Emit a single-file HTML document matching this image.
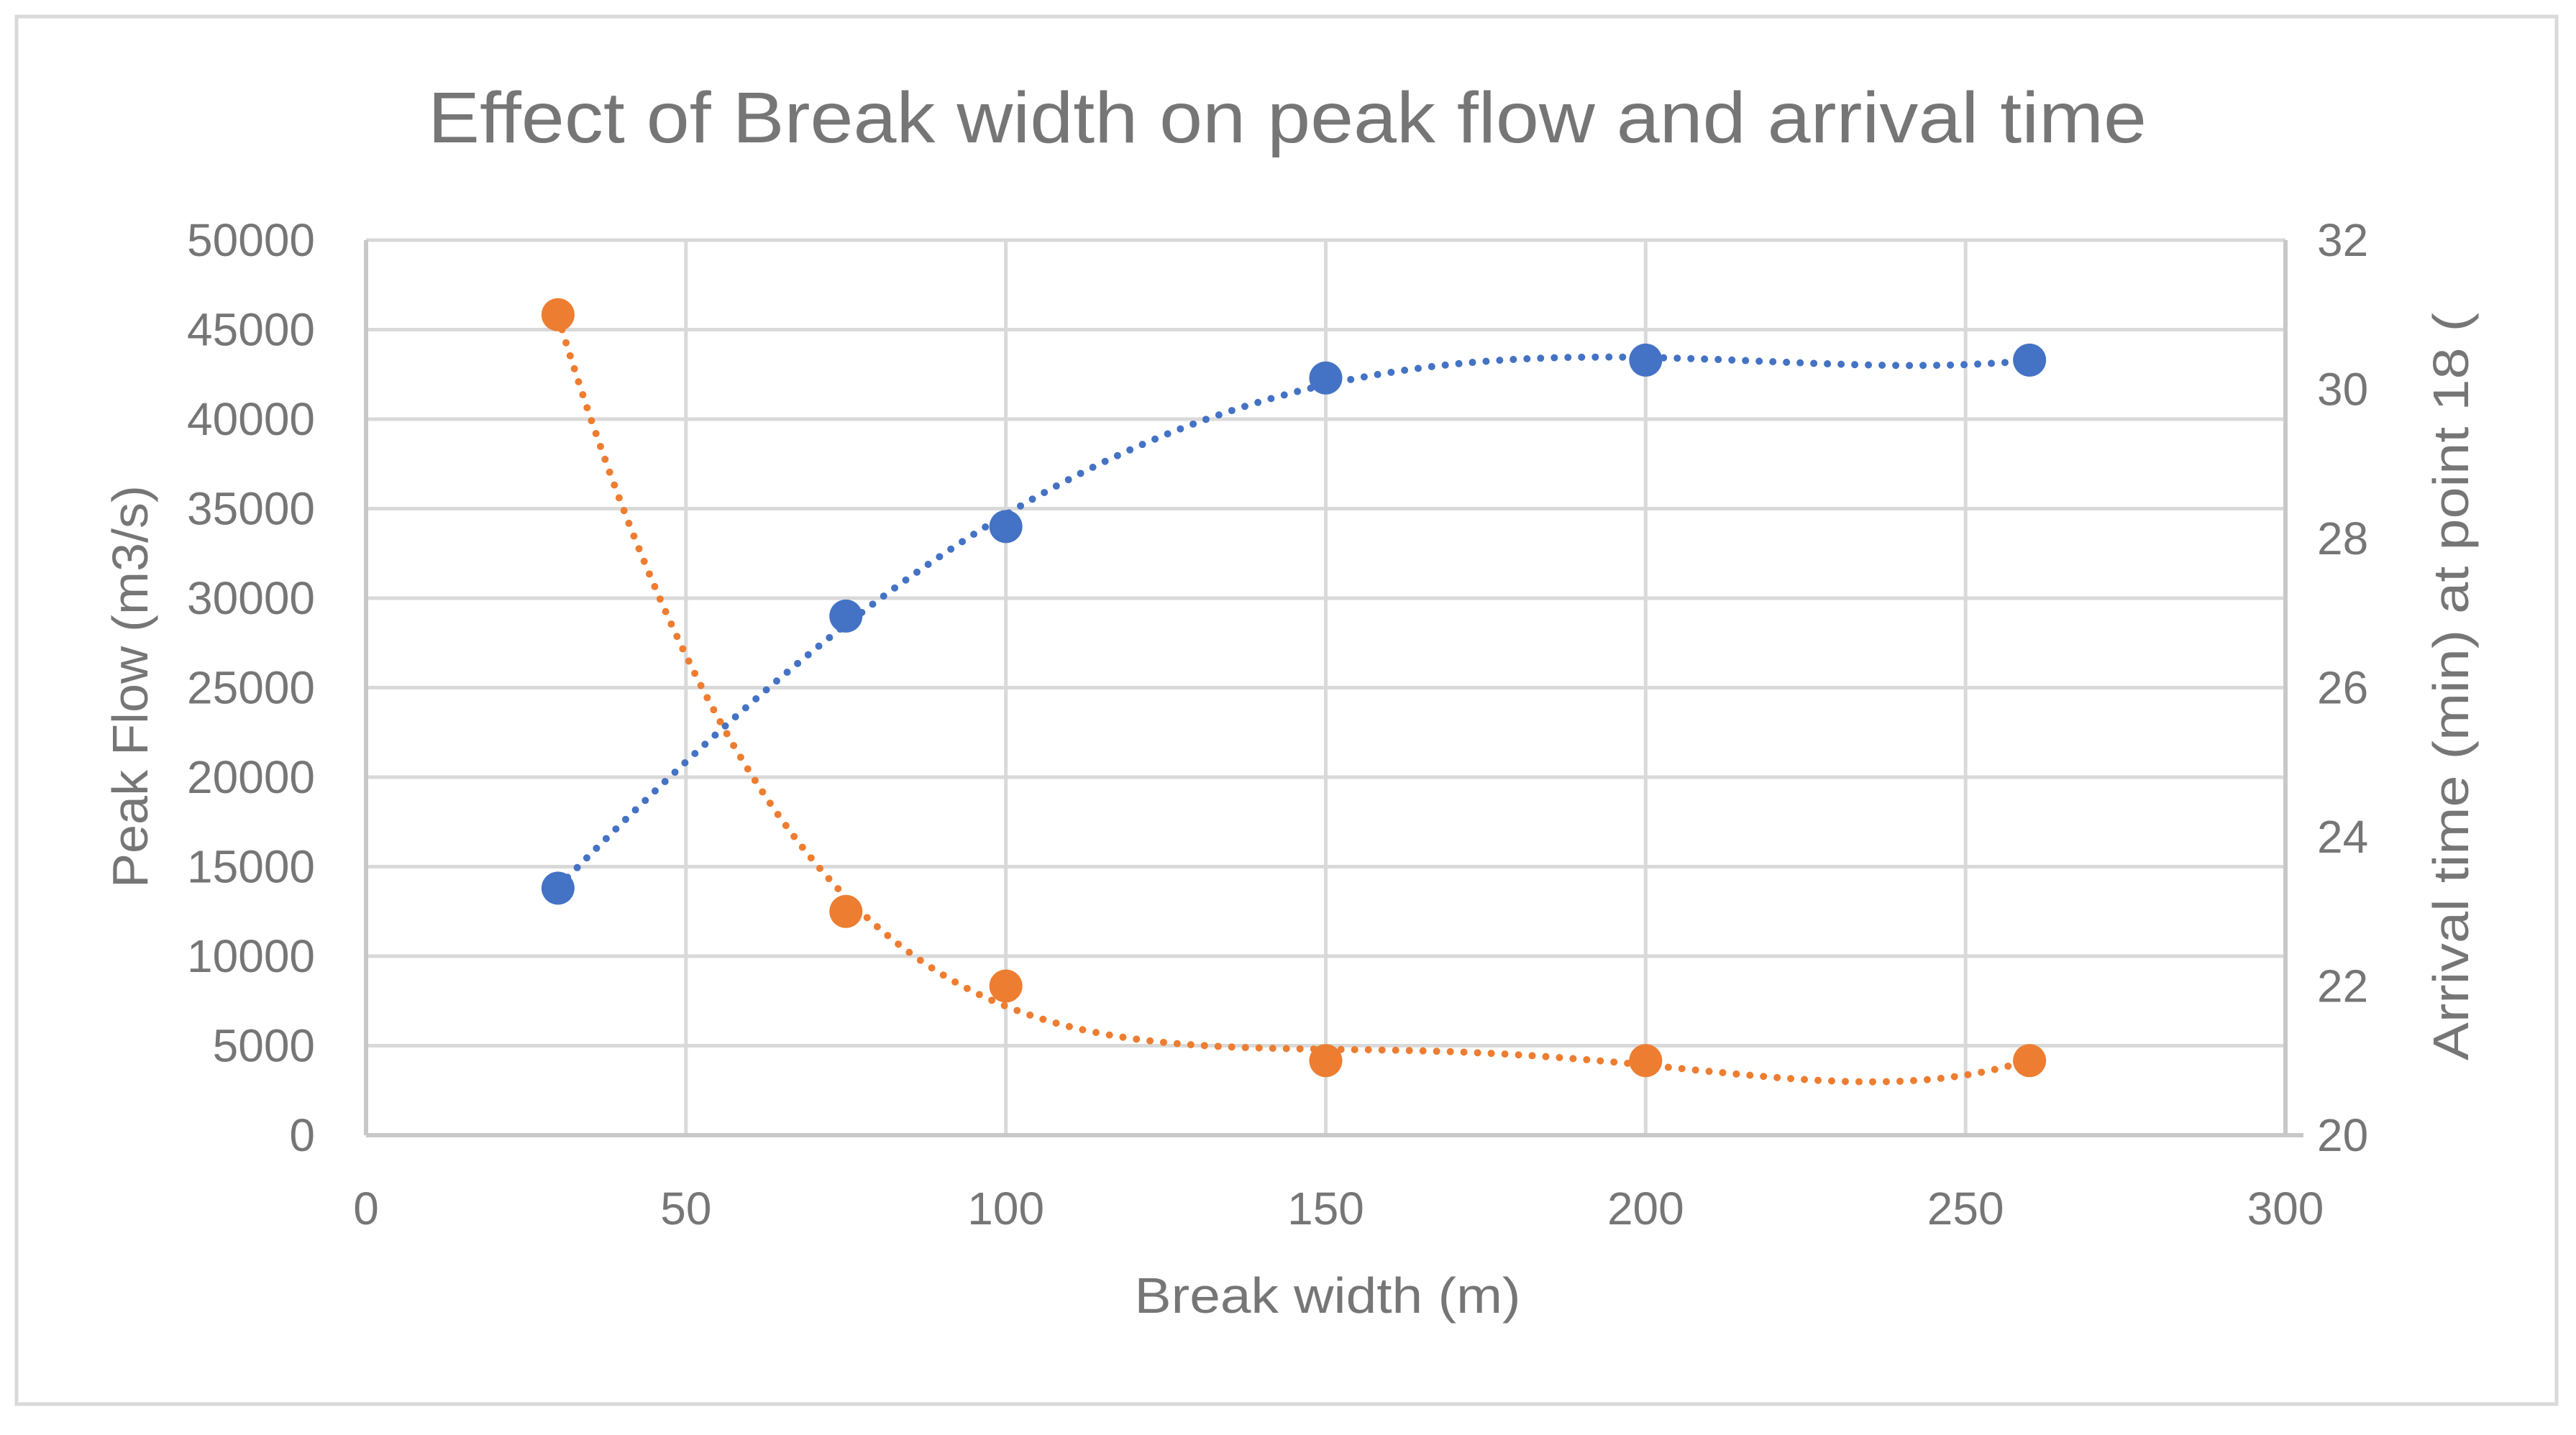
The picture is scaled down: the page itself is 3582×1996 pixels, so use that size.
<!DOCTYPE html>
<html><head><meta charset="utf-8"><style>
html,body{margin:0;padding:0;background:#fff}
svg text{font-family:"Liberation Sans",sans-serif;fill:#767676}
</style></head><body>
<svg id="chart" width="3582" height="1991" viewBox="0 0 3582 1991" xmlns="http://www.w3.org/2000/svg">
<rect x="23" y="23" width="3532" height="1930" fill="#fff" stroke="#D9D9D9" stroke-width="5"/>
<text x="1790" y="198" font-size="100" text-anchor="middle" textLength="2390" lengthAdjust="spacingAndGlyphs">Effect of Break width on peak flow and arrival time</text>
<g id="grid"></g>
<g id="axes"></g>
<g id="series"></g>
<text x="1846" y="1826" font-size="70" text-anchor="middle" textLength="537" lengthAdjust="spacingAndGlyphs">Break width (m)</text>
<text transform="translate(205,955) rotate(-90)" font-size="70" text-anchor="middle" textLength="560" lengthAdjust="spacingAndGlyphs">Peak Flow (m3/s)</text>
<text transform="translate(3432,955) rotate(-90)" font-size="70" text-anchor="middle" textLength="1040" lengthAdjust="spacingAndGlyphs">Arrival time (min) at point 18 (</text>
</svg>
<script>
const xTicks=[0,50,100,150,200,250,300];
const yLeftTicks=[0,5000,10000,15000,20000,25000,30000,35000,40000,45000,50000];
const yRightTicks=[20,22,24,26,28,30,32];
const breakWidth=[30,75,100,150,200,260];
const peakFlow=[13800,29000,34000,42300,43300,43300];
const arrivalTime=[31,23,22,21,21,21];

const L=509,R=3178,T=334,B=1579;
const NS="http://www.w3.org/2000/svg";
const sx=v=>L+(v-0)/(300-0)*(R-L);
const syL=v=>B-(v-0)/(50000-0)*(B-T);
const syR=v=>B-(v-20)/(32-20)*(B-T);
function mk(tag,attrs,parent){const e=document.createElementNS(NS,tag);for(const k in attrs)e.setAttribute(k,attrs[k]);parent.appendChild(e);return e;}
const grid=document.getElementById('grid'),axes=document.getElementById('axes'),ser=document.getElementById('series');

yLeftTicks.forEach(v=>{
  const g=mk('line',{x1:L,x2:R,y1:syL(v),y2:syL(v),stroke:'#D9D9D9','stroke-width':5},grid);
  
  
  const t=mk('text',{x:438,y:syL(v)+22,'font-size':64,'text-anchor':'end'},axes);
  t.textContent=v;
  
  
});
xTicks.forEach(v=>{
  const g=mk('line',{x1:sx(v),x2:sx(v),y1:T,y2:B,stroke:'#D9D9D9','stroke-width':5},grid);
  
  
  const t=mk('text',{x:sx(v),y:1703,'font-size':64,'text-anchor':'middle'},axes);
  t.textContent=v;
  
  
});
yRightTicks.forEach(v=>{
  const t=mk('text',{x:3222,y:syR(v)+22,'font-size':64,'text-anchor':'start'},axes);
  t.textContent=v;
  
  
});
const axL=mk('line',{x1:L,x2:L,y1:T,y2:B,stroke:'#C8C8C8','stroke-width':6},axes);


const axR=mk('line',{x1:R,x2:R,y1:T,y2:B,stroke:'#C8C8C8','stroke-width':6},axes);


const axX=mk('line',{x1:L,x2:R+25,y1:B,y2:B,stroke:'#C8C8C8','stroke-width':6},axes);



function polyfit(xs,ys,deg){
  const n=deg+1,m=xs.map(x=>(x-150)/100);
  const A=[];for(let i=0;i<n;i++){A.push([]);for(let j=0;j<=n;j++)A[i].push(0);}
  m.forEach((x,k)=>{for(let i=0;i<n;i++){for(let j=0;j<n;j++)A[i][j]+=Math.pow(x,i+j);A[i][n]+=ys[k]*Math.pow(x,i);}});
  for(let i=0;i<n;i++){let p=i;for(let r=i+1;r<n;r++)if(Math.abs(A[r][i])>Math.abs(A[p][i]))p=r;[A[i],A[p]]=[A[p],A[i]];
    for(let r=0;r<n;r++){if(r===i)continue;const f=A[r][i]/A[i][i];for(let c=i;c<=n;c++)A[r][c]-=f*A[i][c];}}
  const c=A.map((row,i)=>row[n]/row[i]);
  return x=>{const u=(x-150)/100;let s=0;for(let i=0;i<n;i++)s+=c[i]*Math.pow(u,i);return s;};
}
function trend(ys,sy,color,name){
  const f=polyfit(breakWidth,ys,4);let d='';
  const x0=breakWidth[0],x1=breakWidth[breakWidth.length-1];
  for(let i=0;i<=300;i++){const x=x0+(x1-x0)*i/300;d+=(i?'L':'M')+sx(x).toFixed(1)+','+sy(f(x)).toFixed(1);}
  const p=mk('path',{d:d,fill:'none',stroke:color,'stroke-width':10,'stroke-linecap':'round','stroke-dasharray':'0 19'},ser);
  
  
}
trend(peakFlow,syL,'#4472C4','peak-flow-trendline');
trend(arrivalTime,syR,'#ED7D31','arrival-time-trendline');
breakWidth.forEach((x,i)=>{
  const c=mk('circle',{cx:sx(x),cy:syL(peakFlow[i]),r:23,fill:'#4472C4'},ser);
  
  
  const o=mk('circle',{cx:sx(x),cy:syR(arrivalTime[i]),r:23,fill:'#ED7D31'},ser);
  
  
});
</script>
</body></html>
